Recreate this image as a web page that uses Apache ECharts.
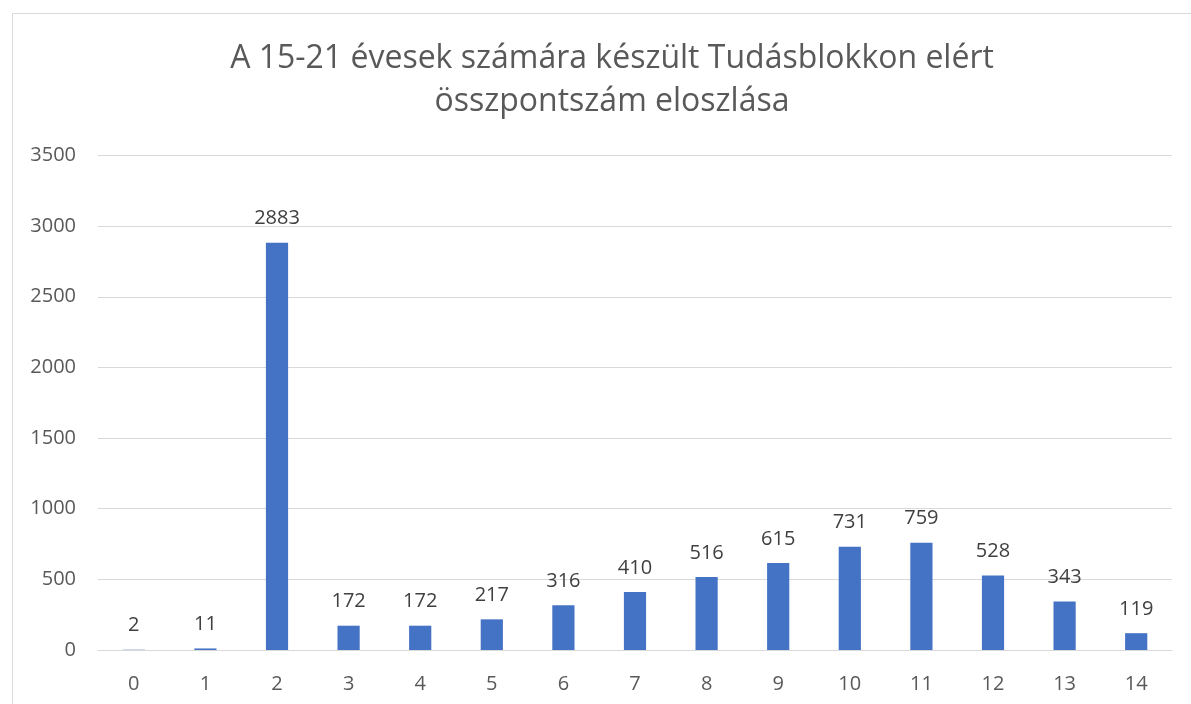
<!DOCTYPE html>
<html>
<head>
<meta charset="utf-8">
<script src="https://cdn.jsdelivr.net/npm/echarts@6/dist/echarts.min.js"></script>
<style>
  html, body { margin: 0; padding: 0; background: #ffffff; }
  #chart { width: 1191px; height: 704px; }
</style>
</head>
<body>
<div id="chart"></div>
<script>
// Total score (0–14) on the knowledge block and number of participants per score
const titleText = 'A 15-21 évesek számára készült Tudásblokkon elért\nösszpontszám eloszlása';
const categories = ['0', '1', '2', '3', '4', '5', '6', '7', '8', '9', '10', '11', '12', '13', '14'];
const counts = [2, 11, 2883, 172, 172, 217, 316, 410, 516, 615, 731, 759, 528, 343, 119];

const FONT = '"Open Sans", "Noto Sans", sans-serif';
const TEXT = '#595959';

const chart = echarts.init(document.getElementById('chart'), null, { renderer: 'canvas' });

chart.setOption({
  backgroundColor: '#ffffff',
  animation: false,
  graphic: [{
    type: 'rect',
    left: 10, top: 11,
    shape: { width: 1250, height: 760 },
    style: { fill: 'none', stroke: '#d9d9d9', lineWidth: 1 },
    silent: true,
    z: -1
  }],
  title: {
    text: titleText,
    left: 607,
    top: 32,
    textAlign: 'center',
    textStyle: {
      fontFamily: FONT,
      fontWeight: 'normal',
      fontSize: 32,
      lineHeight: 43,
      color: TEXT
    }
  },
  grid: {
    left: 98, right: 19, top: 155.5, bottom: 54,
    containLabel: false
  },
  xAxis: {
    type: 'category',
    data: categories,
    axisLine: { show: true, lineStyle: { color: '#d9d9d9', width: 1 } },
    axisTick: { show: false },
    axisLabel: {
      color: TEXT, fontFamily: FONT, fontSize: 20, margin: 24
    }
  },
  yAxis: {
    type: 'value',
    min: 0, max: 3500, interval: 500,
    axisLine: { show: false },
    axisTick: { show: false },
    splitLine: { lineStyle: { color: '#d9d9d9', width: 1 } },
    axisLabel: {
      color: TEXT, fontFamily: FONT, fontSize: 20, margin: 22,
      formatter: (v) => String(v)
    }
  },
  series: [{
    type: 'bar',
    data: counts,
    barWidth: '31%',
    itemStyle: { color: '#4472C4' },
    label: {
      show: true,
      position: 'top',
      distance: 14,
      color: '#404040',
      fontFamily: FONT,
      fontSize: 20
    }
  }]
});
</script>
</body>
</html>
